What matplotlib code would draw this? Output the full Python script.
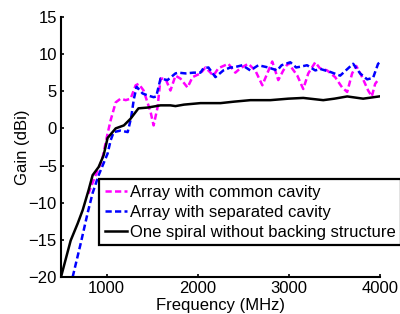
import matplotlib
matplotlib.use("Agg")
import matplotlib.pyplot as plt

plt.rcParams['font.family'] = ['Liberation Sans', 'DejaVu Sans']

f_common = [800, 880, 950, 1011, 1045, 1100, 1154, 1210, 1264, 1319, 1352, 1406, 1483, 1516,
            1559, 1592, 1646, 1701, 1756, 1811, 1888, 1943, 2030, 2085, 2172, 2227, 2336, 2413,
            2468, 2555, 2632, 2709, 2763, 2818, 2884, 2939, 2993, 3093, 3158, 3213, 3290, 3340,
            3420, 3508, 3585, 3640, 3694, 3740, 3804, 3870, 3910, 3947, 3990]
g_common = [-8.8, -6.3, -4.3, -0.7, 1.1, 3.5, 4.0, 3.8, 4.0, 5.8, 6.0, 5.1, 2.2, 0.4,
            2.8, 6.7, 6.7, 5.1, 7.1, 6.7, 5.5, 6.9, 7.4, 8.2, 7.1, 8.1, 8.7, 7.5,
            8.1, 8.7, 7.8, 5.8, 7.4, 9.0, 6.5, 7.8, 8.8, 7.1, 5.3, 7.4, 8.9, 8.1,
            7.8, 6.9, 5.5, 4.9, 7.4, 8.4, 6.9, 5.1, 4.3, 6.0, 6.7]

f_separated = [628, 716, 792, 847, 913, 1011, 1045, 1078, 1154, 1232, 1270, 1300, 1330, 1395,
               1461, 1516, 1545, 1592, 1668, 1756, 1790, 1866, 1954, 2030, 2063, 2118, 2194,
               2281, 2358, 2391, 2490, 2577, 2665, 2774, 2873, 2920, 3016, 3080, 3125, 3200,
               3290, 3344, 3454, 3563, 3705, 3782, 3859, 3924, 3979, 4000]
g_separated = [-20, -15.5, -11.4, -8.7, -6.3, -3.4, -1.6, -0.5, -0.3, -0.5, 1.5, 4.0, 5.6, 4.7,
               4.4, 4.2, 4.3, 6.7, 6.5, 7.4, 7.5, 7.4, 7.5, 7.5, 8.1, 8.2, 6.9,
               7.8, 8.2, 8.2, 8.5, 7.8, 8.5, 8.2, 7.8, 8.5, 8.9, 8.2, 8.3, 8.5,
               7.8, 8.0, 7.6, 7.1, 8.7, 7.4, 6.6, 6.8, 8.7, 8.9]

f_spiral = [500, 606, 683, 738, 803, 847, 913, 968, 1011, 1100, 1190, 1263, 1350, 1450, 1592,
            1700, 1756, 1850, 2030, 2250, 2400, 2578, 2797, 2994, 3158, 3377, 3500, 3640, 3815, 3991]
g_spiral = [-20, -15.1, -12.8, -11, -8.3, -6.3, -5.2, -3.6, -1.3, 0, 0.4, 1.3, 2.7, 2.8, 3.1,
            3.1, 3.0, 3.2, 3.4, 3.4, 3.6, 3.8, 3.8, 4.0, 4.1, 3.8, 4.0, 4.3, 4.0, 4.3]

labels = ['Array with common cavity', 'Array with separated cavity',
          'One spiral without backing structure']
xticks = [1000, 2000, 3000, 4000]
yticks = [-20, -15, -10, -5, 0, 5, 10, 15]

fig = plt.figure(figsize=(4.0, 3.14), dpi=100)
ax = fig.add_axes([0.1525, 0.118, 0.7975, 0.828])

dash = (0, (2.5, 1.3))
l1, = ax.plot(f_common, g_common, color='#ff00ff', lw=1.8, linestyle=dash)
l2, = ax.plot(f_separated, g_separated, color='#0000ff', lw=1.8, linestyle=dash)
l3, = ax.plot(f_spiral, g_spiral, color='black', lw=1.8)

ax.set_xlim(500, 4000)
ax.set_ylim(-20, 15)
ax.set_xticks(xticks)
ax.set_yticks(yticks)
ax.spines['top'].set_visible(False)
ax.spines['right'].set_visible(False)
for s in ('left', 'bottom'):
    ax.spines[s].set_linewidth(1.5)
ax.tick_params(direction='in', length=2.5, width=1.2, labelsize=12, pad=3)
ax.set_xlabel('Frequency (MHz)', fontsize=12, labelpad=1.5)
ax.set_ylabel('Gain (dBi)', fontsize=12, labelpad=-1)

leg = fig.legend([l1, l2, l3], labels, loc='upper left',
                 bbox_to_anchor=(99 / 400, 1 - 179 / 314), fontsize=12,
                 handlelength=1.35, handletextpad=0.15, borderpad=0.33,
                 labelspacing=0.3, borderaxespad=0, fancybox=False, framealpha=1)
leg.get_frame().set_edgecolor('black')
leg.get_frame().set_linewidth(1.6)

fig.savefig('out.png', dpi=100)
